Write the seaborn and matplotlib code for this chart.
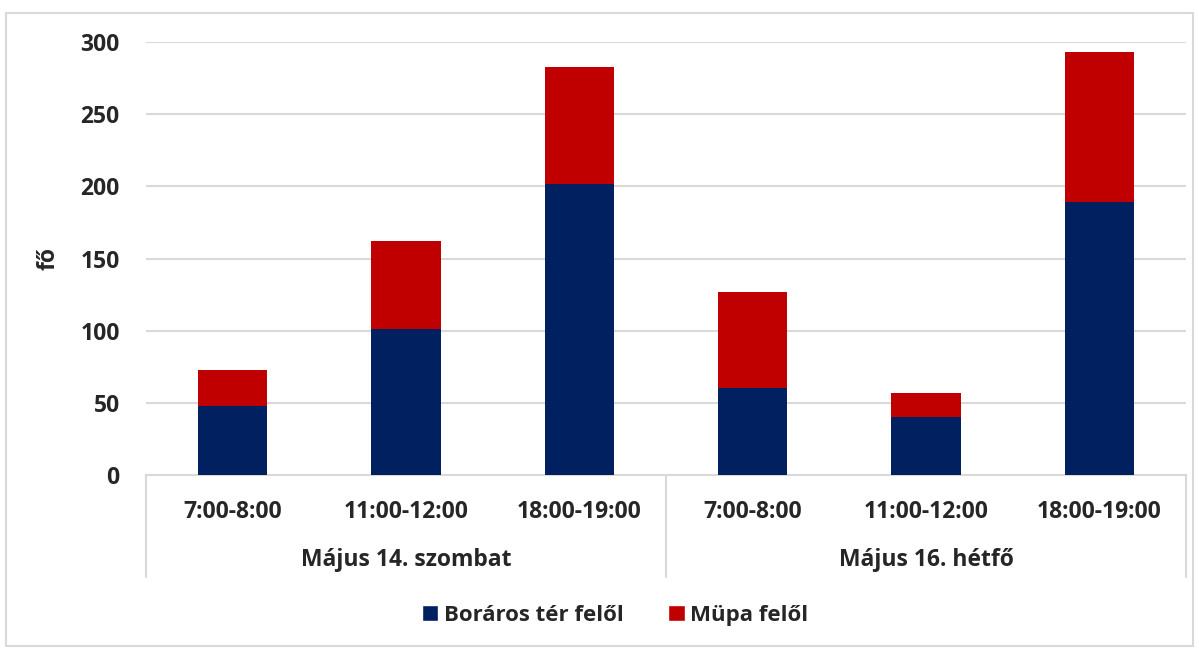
import matplotlib

matplotlib.use("Agg")
import matplotlib.pyplot as plt
import pandas as pd
import seaborn as sns
from matplotlib.patches import Patch, Rectangle

# values (persons)
days = ["Május 14. szombat", "Május 16. hétfő"]
slots = ["7:00-8:00", "11:00-12:00", "18:00-19:00"]
boraros = [48, 101, 202, 60, 40, 189]
mupa = [25, 61, 81, 67, 17, 104]
series_names = ["Boráros tér felől", "Müpa felől"]

NAVY = "#002060"
RED = "#C00000"
GRID = "#D9D9D9"
FS = 16.5

sns.set_theme(style="white")
plt.rcParams["font.family"] = ["Open Sans", "DejaVu Sans"]
plt.rcParams["font.weight"] = "bold"

keys = [f"{d}|{s}" for d in days for s in slots]
df = pd.DataFrame(
    {
        "key": keys,
        "boraros": boraros,
        "total": [b + m for b, m in zip(boraros, mupa)],
    }
)

fig = plt.figure(figsize=(11.99, 6.49), dpi=100)
ax = fig.add_axes([0.1218, 0.268, 0.8674, 0.667])

# stacked bars: total in red, lower part in navy on top of it
sns.barplot(data=df, x="key", y="total", color=RED, width=0.40, saturation=1,
            linewidth=0, ax=ax, zorder=2)
sns.barplot(data=df, x="key", y="boraros", color=NAVY, width=0.40, saturation=1,
            linewidth=0, ax=ax, zorder=3)

ax.set_ylim(0, 300)
ax.set_xlim(-0.5, len(keys) - 0.5)
ax.set_yticks(range(0, 301, 50))
ax.tick_params(axis="y", length=0, pad=19, labelsize=FS)
ax.yaxis.grid(True, color=GRID, linewidth=1.5, zorder=0)
for lab in ax.get_yticklabels():
    lab.set_fontweight("bold")

ax.set_ylabel("fő", fontsize=FS, fontweight="bold", labelpad=14)
ax.set_xlabel("")
ax.set_xticks(range(len(keys)))
ax.set_xticklabels(slots * len(days), fontsize=FS, fontweight="bold")
ax.tick_params(axis="x", length=0, pad=18)

for side in ["top", "right", "left"]:
    ax.spines[side].set_visible(False)
ax.spines["bottom"].set_color(GRID)
ax.spines["bottom"].set_linewidth(1.5)

# group separators and day labels under the category axis
trans = ax.get_xaxis_transform()
n = len(slots)
for i in range(len(days) + 1):
    x = i * n - 0.5
    ax.plot([x, x], [0, -0.236], color=GRID, linewidth=1.5, transform=trans, clip_on=False)
for i, d in enumerate(days):
    ax.text(i * n + (n - 1) / 2, -0.197, d, transform=trans, ha="center", va="center",
            fontsize=FS, fontweight="bold")

handles = [Patch(facecolor=NAVY, label=series_names[0]), Patch(facecolor=RED, label=series_names[1])]
fig.legend(handles=handles, loc="center", bbox_to_anchor=(0.513, 0.052), ncol=2, frameon=False,
           prop={"size": 16, "weight": "bold"}, handlelength=0.75, handleheight=0.75,
           handletextpad=0.25, columnspacing=2.0)

# light outer border of the chart area
fig.patches.append(Rectangle((0.005, 0.005), 0.99, 0.975, transform=fig.transFigure,
                             fill=False, edgecolor=GRID, linewidth=1.5))

fig.savefig("out.png", dpi=100)
